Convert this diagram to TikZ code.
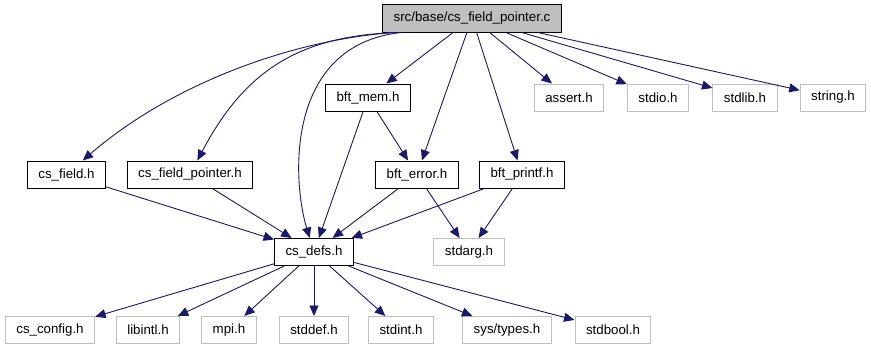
\documentclass[tikz,border=0pt]{standalone}
\usepackage{fontspec}
\setmainfont{Liberation Sans}
\usetikzlibrary{arrows.meta}

\definecolor{edgeblue}{HTML}{191970}
\definecolor{nodegray}{HTML}{BFBFBF}

\begin{document}
\begin{tikzpicture}[x=1pt, y=-1pt,
    box/.style={rectangle, draw=black, line width=1pt, minimum height=27pt, inner xsep=11pt, inner ysep=0pt,
        font=\fontsize{13.3}{16}\selectfont, text centered},
    sysbox/.style={box, draw=nodegray},
    root/.style={box, fill=nodegray, minimum height=28pt},
    arrow/.style={-{Triangle[length=10.5pt, width=9pt]}, draw=edgeblue, line width=0.9pt}]

    \useasboundingbox (0,0) rectangle (871,349);

    % Nodes
    \node[root] (top) at (472,18) {src/base/cs\_field\_pointer.c};

    \node[box] (mem) at (368,97.5) {bft\_mem.h};
    \node[sysbox] (assert) at (569,97.5) {assert.h};
    \node[sysbox] (stdio) at (658,97.5) {stdio.h};
    \node[sysbox] (stdlib) at (745,97.5) {stdlib.h};
    \node[sysbox] (string) at (833,97.5) {string.h};

    \node[box] (field) at (66.5,174.5) {cs\_field.h};
    \node[box] (fieldptr) at (190,174.5) {cs\_field\_pointer.h};
    \node[box] (error) at (417,174.5) {bft\_error.h};
    \node[box] (printf) at (522,174.5) {bft\_printf.h};

    \node[box] (defs) at (314,252) {cs\_defs.h};
    \node[sysbox] (stdarg) at (469,252) {stdarg.h};

    \node[sysbox] (config) at (50,330) {cs\_config.h};
    \node[sysbox] (libintl) at (148,330) {libintl.h};
    \node[sysbox] (mpi) at (229,330) {mpi.h};
    \node[sysbox] (stddef) at (314,330) {stddef.h};
    \node[sysbox] (stdint) at (401,330) {stdint.h};
    \node[sysbox] (types) at (507,330) {sys/types.h};
    \node[sysbox] (stdbool) at (613,330) {stdbool.h};

    % Arrows
    \draw[arrow] ([xshift=12pt]top.south west) .. controls (290,40) and (170,85) .. (field);
    \draw[arrow] ([xshift=14pt]top.south west) .. controls (300,36) and (245,70) .. (fieldptr);
    \draw[arrow] ([xshift=19pt]top.south west) .. controls (285,45) and (292,180) .. (defs);
    \draw[arrow] (top) -- (mem);
    \draw[arrow] (top) -- (error);
    \draw[arrow] (top) -- (printf);
    \draw[arrow] (top) -- (assert);
    \draw[arrow] (top) -- (stdio);
    \draw[arrow] (top) -- (stdlib);
    \draw[arrow] (top) -- (string);

    \draw[arrow] (mem) -- (defs);
    \draw[arrow] (mem) -- (error);
    \draw[arrow] (field) -- (defs);
    \draw[arrow] (fieldptr) -- (defs);
    \draw[arrow] (error) -- (defs);
    \draw[arrow] (error) -- (stdarg);
    \draw[arrow] (printf) -- (defs);
    \draw[arrow] (printf) -- (stdarg);

    \foreach \dst in {config, libintl, mpi, stddef, stdint, types, stdbool}
        \draw[arrow] (defs) -- (\dst);

\end{tikzpicture}
\end{document}
